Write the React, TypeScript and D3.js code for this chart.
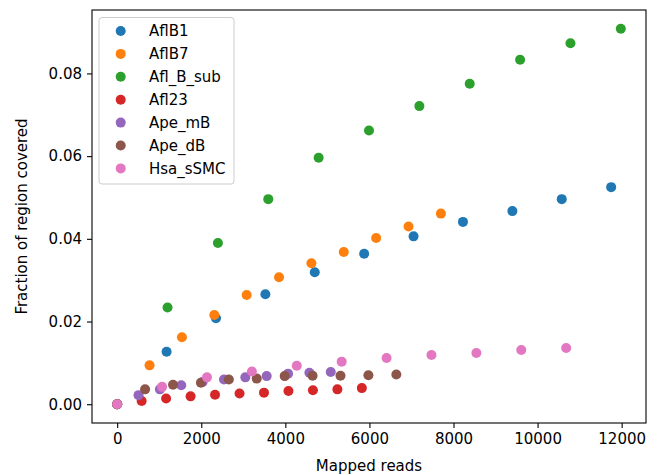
import React, { useEffect, useRef } from "react";
import * as d3 from "d3";

const seriesNames = ["AflB1", "AflB7", "Afl_B_sub", "Afl23", "Ape_mB", "Ape_dB", "Hsa_sSMC"];
const seriesColors = ["#1f77b4", "#ff7f0e", "#2ca02c", "#d62728", "#9467bd", "#8c564b", "#e377c2"];

const aflB1X = [0, 1175, 2350, 3525, 4700, 5875, 7050, 8225, 9400, 10575, 11750];
const aflB1Y = [0, 0.0127, 0.0208, 0.0266, 0.0319, 0.0364, 0.0406, 0.0441, 0.0467, 0.0496, 0.0525];

const aflB7X = [0, 770, 1540, 2310, 3080, 3850, 4620, 5390, 6160, 6930, 7700];
const aflB7Y = [0, 0.0094, 0.0162, 0.0216, 0.0264, 0.0307, 0.0341, 0.0368, 0.0402, 0.043, 0.0461];

const aflBSubX = [0, 1198, 2396, 3594, 4792, 5990, 7188, 8386, 9584, 10782, 11980];
const aflBSubY = [0, 0.0234, 0.039, 0.0496, 0.0596, 0.0662, 0.0721, 0.0775, 0.0833, 0.0873, 0.0908];

const afl23X = [0, 582, 1164, 1746, 2328, 2910, 3492, 4074, 4656, 5238, 5820];
const afl23Y = [0, 0.0008, 0.0014, 0.0019, 0.0023, 0.0026, 0.0028, 0.0032, 0.0034, 0.0036, 0.0039];

const apeMBX = [0, 508, 1016, 1524, 2032, 2540, 3048, 3556, 4064, 4572, 5080];
const apeMBY = [0, 0.0022, 0.0036, 0.0046, 0.0054, 0.006, 0.0065, 0.0068, 0.0074, 0.0076, 0.0078];

const apeDBX = [0, 664, 1328, 1992, 2656, 3320, 3984, 4648, 5312, 5976, 6640];
const apeDBY = [0, 0.0036, 0.0047, 0.0052, 0.006, 0.0062, 0.0068, 0.0069, 0.0069, 0.007, 0.0072];

const hsaX = [0, 1068, 2136, 3204, 4272, 5340, 6408, 7476, 8544, 9612, 10680];
const hsaY = [0, 0.0042, 0.0065, 0.0079, 0.0093, 0.0103, 0.0112, 0.0119, 0.0124, 0.0131, 0.0136];

const xTicks = [0, 2000, 4000, 6000, 8000, 10000, 12000];
const yTicks = [0, 0.02, 0.04, 0.06, 0.08];

const allX = [aflB1X, aflB7X, aflBSubX, afl23X, apeMBX, apeDBX, hsaX];
const allY = [aflB1Y, aflB7Y, aflBSubY, afl23Y, apeMBY, apeDBY, hsaY];

const W = 657;
const H = 475;
const margin = { top: 10, right: 11, bottom: 52, left: 92 };
const font = "'DejaVu Sans', sans-serif";

const App = () => {
  const ref = useRef<SVGSVGElement | null>(null);

  useEffect(() => {
    const svg = d3.select(ref.current);
    svg.selectAll("*").remove();

    const xs = allX.flat();
    const ys = allY.flat();
    const [x0, x1] = d3.extent(xs) as [number, number];
    const [y0, y1] = d3.extent(ys) as [number, number];
    const px = (x1 - x0) * 0.05;
    const py = (y1 - y0) * 0.05;

    const x = d3.scaleLinear().domain([x0 - px, x1 + px]).range([margin.left, W - margin.right]);
    const y = d3.scaleLinear().domain([y0 - py, y1 + py]).range([H - margin.bottom, margin.top]);

    // points, in series order so later ones sit on top
    allX.forEach((xv, i) => {
      svg
        .append("g")
        .selectAll("circle")
        .data(xv.map((v, j) => [v, allY[i][j]]))
        .enter()
        .append("circle")
        .attr("cx", (d) => x(d[0]))
        .attr("cy", (d) => y(d[1]))
        .attr("r", 5)
        .attr("fill", seriesColors[i]);
    });

    const xAxis = d3
      .axisBottom(x)
      .tickValues(xTicks)
      .tickSize(5)
      .tickPadding(5)
      .tickFormat((d) => String(d));
    const yAxis = d3
      .axisLeft(y)
      .tickValues(yTicks)
      .tickSize(5)
      .tickPadding(5)
      .tickFormat(d3.format(".2f"));

    const gx = svg.append("g").attr("transform", `translate(0,${H - margin.bottom})`).call(xAxis);
    const gy = svg.append("g").attr("transform", `translate(${margin.left},0)`).call(yAxis);
    [gx, gy].forEach((g) => {
      g.select(".domain").remove();
      g.selectAll("line").attr("stroke", "#000").attr("stroke-width", 1.1);
      g.selectAll("text").attr("fill", "#000").style("font-family", font).style("font-size", "15px");
    });

    // frame
    svg
      .append("rect")
      .attr("x", margin.left)
      .attr("y", margin.top)
      .attr("width", W - margin.left - margin.right)
      .attr("height", H - margin.top - margin.bottom)
      .attr("fill", "none")
      .attr("stroke", "#000")
      .attr("stroke-width", 1.1);

    svg
      .append("text")
      .attr("x", (margin.left + W - margin.right) / 2)
      .attr("y", 471)
      .attr("text-anchor", "middle")
      .style("font-family", font)
      .style("font-size", "15px")
      .text("Mapped reads");

    svg
      .append("text")
      .attr("transform", `translate(27,${(margin.top + H - margin.bottom) / 2}) rotate(-90)`)
      .attr("text-anchor", "middle")
      .style("font-family", font)
      .style("font-size", "15px")
      .text("Fraction of region covered");

    // legend
    const lg = svg.append("g");
    lg.append("rect")
      .attr("x", 99)
      .attr("y", 17.5)
      .attr("width", 135)
      .attr("height", 166.5)
      .attr("rx", 3)
      .attr("fill", "#fff")
      .attr("fill-opacity", 0.8)
      .attr("stroke", "#ccc")
      .attr("stroke-width", 1);
    seriesNames.forEach((name, i) => {
      const cy = 31 + i * 22.9;
      lg.append("circle").attr("cx", 120.7).attr("cy", cy).attr("r", 5).attr("fill", seriesColors[i]);
      lg.append("text")
        .attr("x", 149)
        .attr("y", cy)
        .attr("dy", "0.36em")
        .style("font-family", font)
        .style("font-size", "15px")
        .text(name);
    });
  }, []);

  return <svg ref={ref} width={W} height={H} style={{ display: "block", position: "absolute", left: 0, top: 0 }} />;
};

export default App;
